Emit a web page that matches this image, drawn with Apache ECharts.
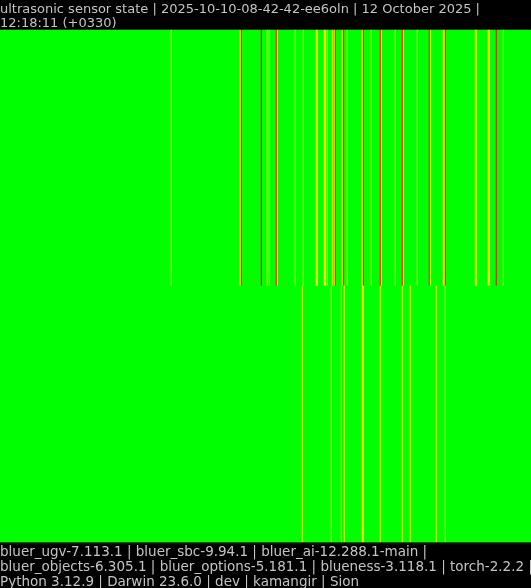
<!DOCTYPE html>
<html>
<head>
<meta charset="utf-8">
<script src="https://cdn.jsdelivr.net/npm/echarts@6/dist/echarts.min.js"></script>
<style>
  html, body { margin: 0; padding: 0; background: #000; }
  #chart { width: 531px; height: 588px; }
</style>
</head>
<body>
<div id="chart"></div>
<script>
// ---- data ----
const titleLines = [
  'ultrasonic sensor state | 2025-10-10-08-42-42-ee6oln | 12 October 2025 |',
  '12:18:11 (+0330)'
];
const footerLines = [
  'bluer_ugv-7.113.1 | bluer_sbc-9.94.1 | bluer_ai-12.288.1-main |',
  'bluer_objects-6.305.1 | bluer_options-5.181.1 | blueness-3.118.1 | torch-2.2.2 |',
  'Python 3.12.9 | Darwin 23.6.0 | dev | kamangir | Sion'
];
const sensors = ['sensor 0', 'sensor 1'];
const sampleCount = 531;
// states: 0 = clear (green), 1 = warning (yellow), 2 = danger (red)
const sensor0Warning = [171, 240, 267, 269, 277, 295, 303, 316, 317, 324, 325, 327, 332, 334, 342, 347, 362, 371, 381, 395, 403, 417, 430, 443, 444, 475, 476, 488, 489, 503];
const sensor0Danger  = [241, 261, 276, 335, 343, 363, 380, 402, 429, 445, 496];
const sensor1Warning = [302, 331, 341, 344, 362, 363, 380, 402, 410, 436, 445];
const sensor1Danger  = [];

// ---- build table ----
const samples = [];
for (let i = 0; i < sampleCount; i++) samples.push(String(i));
const events = [
  { warning: sensor0Warning, danger: sensor0Danger },
  { warning: sensor1Warning, danger: sensor1Danger }
];
const data = [];
events.forEach((ev, row) => {
  const w = new Set(ev.warning), d = new Set(ev.danger);
  for (let i = 0; i < sampleCount; i++) {
    data.push([i, row, d.has(i) ? 2 : (w.has(i) ? 1 : 0)]);
  }
});

const chart = echarts.init(document.getElementById('chart'), null, { renderer: 'canvas' });
chart.setOption({
  backgroundColor: '#000000',
  animation: false,
  title: [
    {
      text: titleLines.join('\n'),
      left: 0, top: 3,
      padding: 0,
      textStyle: { color: '#c4c4c4', fontFamily: 'DejaVu Sans', fontWeight: 'normal', fontSize: 13, lineHeight: 13.5 }
    },
    {
      text: footerLines.join('\n'),
      left: 0, top: 545,
      padding: 0,
      textStyle: { color: '#c4c4c4', fontFamily: 'DejaVu Sans', fontWeight: 'normal', fontSize: 13.5, lineHeight: 15 }
    }
  ],
  grid: { left: 0, right: 0, top: 30, bottom: 46, containLabel: false },
  xAxis: { type: 'category', data: samples, show: false },
  yAxis: { type: 'category', data: sensors, inverse: true, show: false },
  visualMap: {
    type: 'piecewise', show: false, dimension: 2,
    pieces: [
      { value: 0, color: '#00ff00' },
      { value: 1, color: '#ffff00' },
      { value: 2, color: '#ff0000' }
    ]
  },
  series: [{
    type: 'heatmap',
    data: data,
    emphasis: { disabled: true },
    itemStyle: { borderWidth: 0 }
  }]
});
</script>
</body>
</html>
